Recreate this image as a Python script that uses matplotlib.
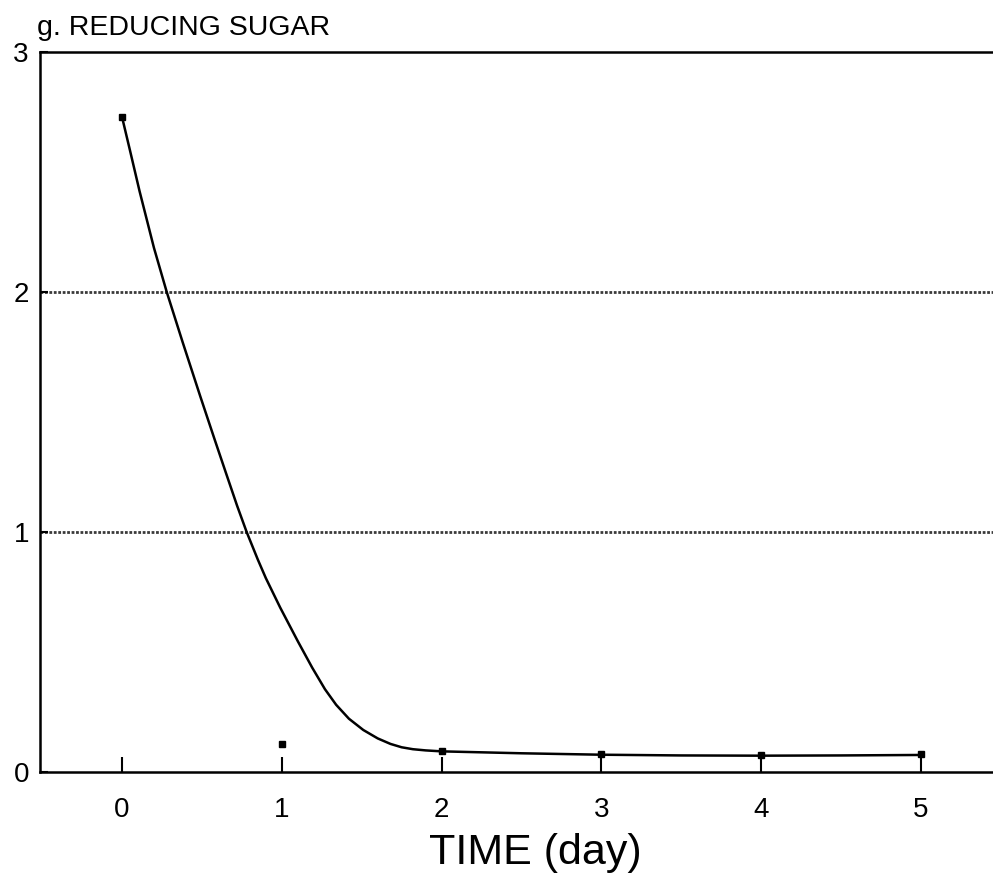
import numpy as np
import matplotlib
matplotlib.use("Agg")
import matplotlib.pyplot as plt

# measured points (day, g reducing sugar)
days = [0, 1, 2, 3, 4, 5]
sugar = [2.73, 0.115, 0.086, 0.074, 0.071, 0.075]

# fitted curve
curve_x = [0, 0.05, 0.11, 0.2, 0.28, 0.38, 0.49, 0.58, 0.65, 0.72, 0.78, 0.85,
           0.90, 0.99, 1.1, 1.19, 1.27, 1.34, 1.42, 1.51, 1.6, 1.68, 1.75,
           1.82, 1.9, 2.0, 2.5, 3.0, 3.5, 4.0, 4.5, 5.0]
curve_y = [2.73, 2.59, 2.42, 2.184, 2.0, 1.79, 1.565, 1.385, 1.247, 1.11, 1.0, 0.885,
           0.808, 0.685, 0.545, 0.435, 0.345, 0.28, 0.222, 0.175, 0.14, 0.117, 0.103,
           0.095, 0.09, 0.086, 0.078, 0.072, 0.069, 0.068, 0.069, 0.071]

xticks = [0, 1, 2, 3, 4, 5]
yticks = [0, 1, 2, 3]

plt.rcParams['font.family'] = ['Liberation Sans', 'DejaVu Sans']

fig = plt.figure(figsize=(9.93, 8.89), dpi=100)
ax = fig.add_axes([40/993, 1-772/889, 1-40/993, 720/889])

# dotted grid lines at 1 and 2
for g in [1, 2]:
    ax.axhline(g, color='#3a3a3a', lw=2.0, ls=(0, (1.0, 0.6)), zorder=1)

ax.plot(curve_x, curve_y, color='black', lw=1.8, zorder=3, solid_joinstyle='round')
ax.plot(days, sugar, 's', color='black', markersize=5, zorder=4)

ax.set_xlim(-0.513, 5.45)
ax.set_ylim(0, 3)
ax.set_xticks(xticks)
ax.set_yticks(yticks)
ax.tick_params(axis='x', direction='in', length=11, width=1.5, labelsize=20, pad=18)
ax.tick_params(axis='y', direction='in', length=6, width=1.5, labelsize=20, pad=8)
for s in ['left', 'bottom', 'top']:
    ax.spines[s].set_linewidth(1.8)
ax.spines['right'].set_visible(False)

fig.text(37/993, 1-35/889, "g. REDUCING SUGAR", fontsize=20.5, va='baseline', ha='left')
fig.text(535/993, 1-864/889, "TIME (day)", fontsize=31, ha='center', va='baseline')

fig.savefig("out.png", dpi=100)
